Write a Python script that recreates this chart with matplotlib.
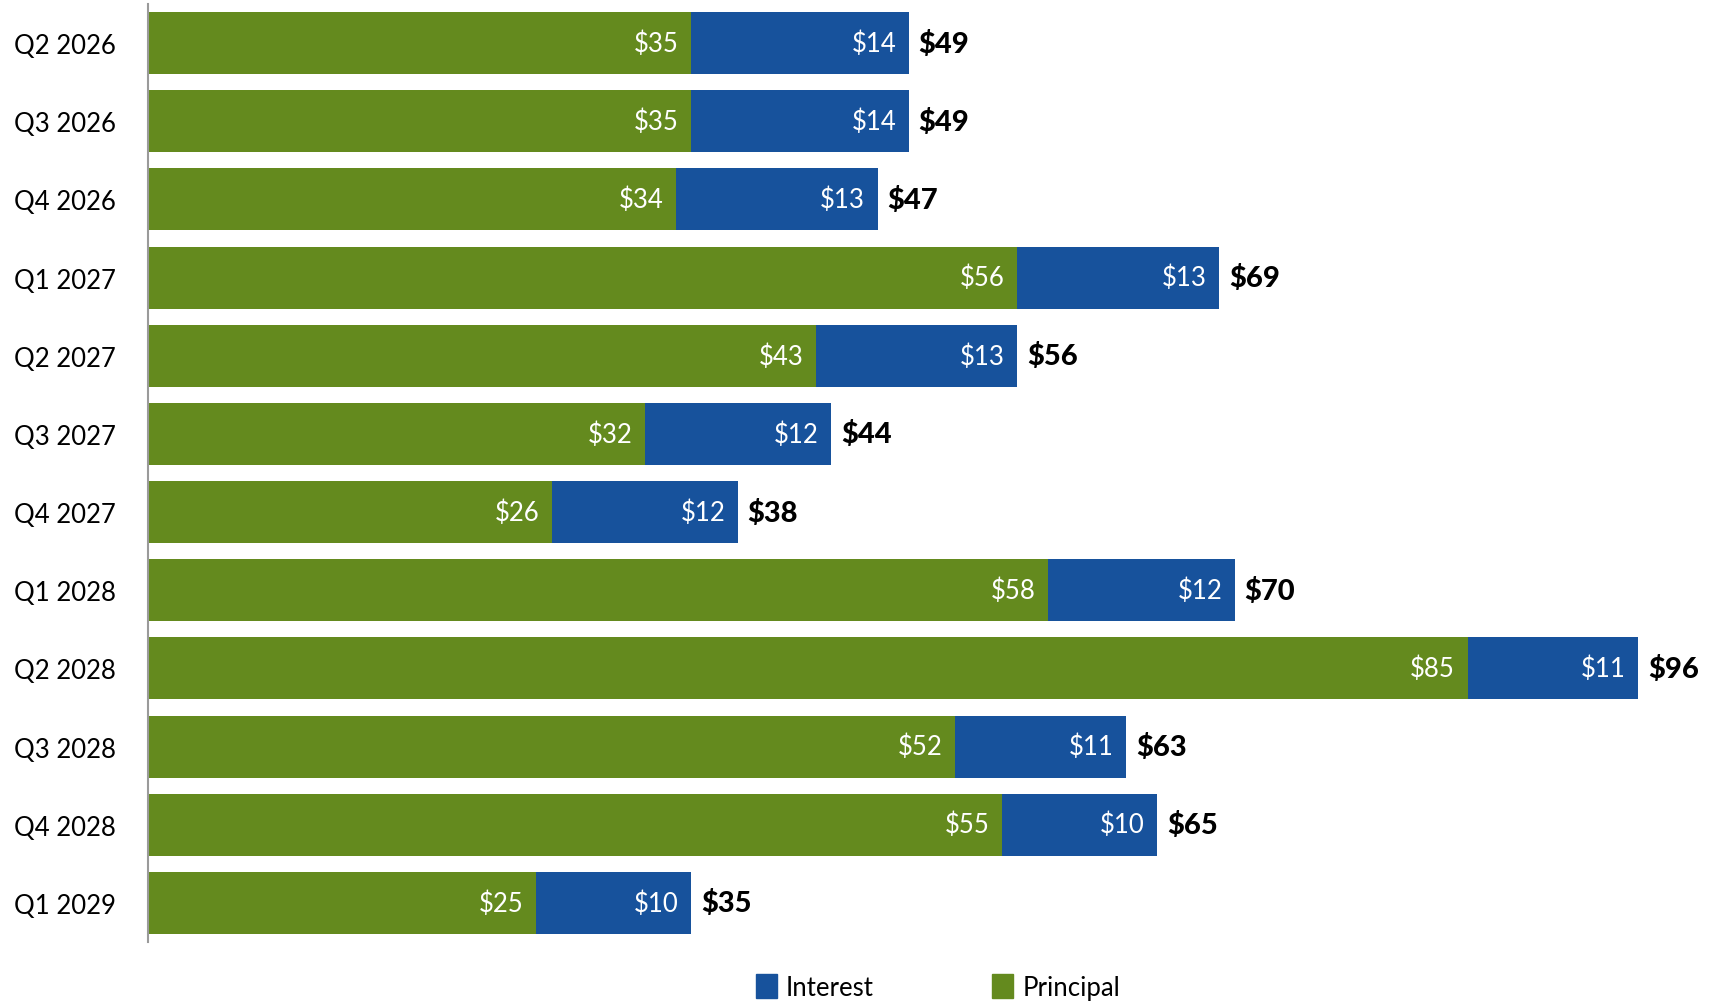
import matplotlib.pyplot as plt
from matplotlib.patches import Patch

quarters = ['Q2 2026', 'Q3 2026', 'Q4 2026', 'Q1 2027', 'Q2 2027', 'Q3 2027',
            'Q4 2027', 'Q1 2028', 'Q2 2028', 'Q3 2028', 'Q4 2028', 'Q1 2029']
principal = [35, 35, 34, 56, 43, 32, 26, 58, 85, 52, 55, 25]
interest = [14, 14, 13, 13, 13, 12, 12, 12, 11, 11, 10, 10]

GREEN = '#648A1E'
BLUE = '#17529C'

plt.rcParams['font.family'] = ['Lato', 'DejaVu Sans']

fig = plt.figure(figsize=(17.16, 10.04), dpi=100)
ax = fig.add_axes([148 / 1716, 1 - 943 / 1004, 1 - 148 / 1716, (943 - 5) / 1004])

y = list(range(len(quarters)))
height = 0.795
ax.barh(y, principal, height=height, color=GREEN, label='Principal')
ax.barh(y, interest, height=height, left=principal, color=BLUE, label='Interest')

for i in y:
    p, q = principal[i], interest[i]
    total = p + q
    ax.annotate(f'${p}', (p, i), xytext=(-9, 0), textcoords='offset points',
                ha='right', va='center', color='white', fontsize=18.5)
    ax.annotate(f'${q}', (total, i), xytext=(-9, 0), textcoords='offset points',
                ha='right', va='center', color='white', fontsize=18.5)
    ax.annotate(f'${total}', (total, i), xytext=(7, 0), textcoords='offset points',
                ha='left', va='center', color='black', fontsize=21, fontweight='black')

ax.set_xlim(0, 101)
ax.set_ylim(len(quarters) - 0.5, -0.5)
ax.set_yticks(y)
ax.set_yticklabels(quarters, fontsize=18.5)
ax.tick_params(axis='y', length=0, pad=23)
ax.set_xticks([])
for side in ['top', 'right', 'bottom']:
    ax.spines[side].set_visible(False)
ax.spines['left'].set_color('#9a9a9a')
ax.spines['left'].set_linewidth(1.5)

handles = [Patch(color=BLUE, label='Interest'), Patch(color=GREEN, label='Principal')]
fig.legend(handles=handles, loc='center', bbox_to_anchor=(0.5466, 0.016), ncol=2,
           frameon=False, fontsize=18.5, handlelength=0.82, handleheight=1.05,
           handletextpad=0.36, columnspacing=4.6, borderpad=0, borderaxespad=0)

fig.savefig('out.png', dpi=100)
